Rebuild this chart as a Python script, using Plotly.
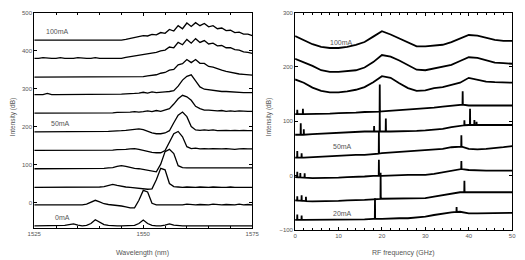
import numpy as np
import plotly.graph_objects as go

# ---------------- Left panel: optical spectra (offset for display) ----------------
WAVELENGTH = list(range(1525, 1576))  # nm, 1 nm sampling
SPEC_CURRENTS = ["0mA", "10mA", "20mA", "30mA", "40mA", "50mA", "60mA", "70mA", "80mA", "90mA", "100mA"]
SPEC_OFFSETS = [-60, -5, 41, 90, 138, 187, 236, 285, 331, 380, 428]

spec_0mA = [0, 0, 0, 0, 0, 0, 0, 1, 3, 5,
            2, 0, 1, 6, 16, 9, 3, 1, 0, 0,
            0, 0, 0, 1, 6, 15, 6, 1, 0, 0,
            2, 5, 2, 0, 0, 0, 0, 0, 0, 0,
            0, 0, 0, 0, 0, 0, 0, 0, 0, 0,
            0]
spec_10mA = [0, 0, 1, 0, 0, 0, 0, 0, 1, 0,
             0, 0, 2, 6, 12, 8, 3, 1, 0, -1,
             -3, -5, -8, -8, 12, 38, 34, 4, 0, 0,
             0, 1, 0, 0, 0, 2, 0, 0, 1, 0,
             0, 2, 0, 0, 1, 0, 0, 2, 0, 1,
             0]
spec_20mA = [0, 0, 0, 0, 0, 1, 0, 0, 0, 0,
             0, 0, 0, 0, 1, 1, 2, 4, 8, 5,
             2, 1, 0, -1, -3, -4, -5, -4, 20, 50,
             46, 10, 2, 1, 0, 1, 0, 0, 1, 0,
             0, 1, 0, 0, 0, 1, 0, 0, 1, 0,
             0]
spec_30mA = [0, 0, 0, 1, 0, 0, 0, 0, 0, 0,
             0, 0, 0, 0, 0, 1, 1, 2, 3, 6,
             8, 6, 3, 1, 0, -2, -4, -6, -8, 12,
             45, 51, 40, 8, 3, 2, 2, 3, 2, 2,
             3, 2, 2, 3, 2, 2, 3, 2, 2, 3,
             2]
spec_40mA = [0, 0, 0, 0, 0, 1, 0, 0, 0, 1,
             0, 0, 0, 0, 1, 0, 0, 1, 1, 2,
             2, 3, 4, 5, 3, 0, -3, -5, -6, -6,
             0, 22, 44, 50, 36, 10, 5, 6, 4, 5,
             4, 5, 4, 4, 5, 4, 3, 4, 5, 4,
             4]
spec_50mA = [0, 0, 0, 0, 0, 0, 0, 0, 0, 0,
             0, 0, 1, 0, 0, 0, 1, 1, 2, 2,
             3, 4, 5, 7, 8, 6, 1, -3, -5, -5,
             -3, 3, 24, 44, 52, 40, 14, 5, 4, 5,
             4, 5, 3, 4, 4, 3, 4, 3, 4, 3,
             3]
spec_60mA = [0, 0, 1, 0, 1, 0, 1, 0, 1, 0,
             0, 0, 0, 0, 0, 0, 0, 1, 1, 2,
             2, 3, 3, 4, 3, 4, 6, 4, 7, 5,
             8, 12, 24, 38, 47, 43, 34, 18, 12, 8,
             8, 7, 6, 7, 5, 6, 5, 6, 5, 5,
             5]
spec_70mA = [0, 0, 0, 3, 0, 0, 0, 0, 0, 0,
             0, 0, 0, 0, 0, 0, 0, 0, 0, 1,
             1, 2, 2, 3, 4, 6, 4, 7, 5, 7,
             7, 8, 10, 22, 38, 48, 52, 36, 20, 14,
             12, 10, 9, 8, 8, 7, 6, 6, 5, 5,
             5]
spec_80mA = [0, 0, 0, 0, 0, 0, 0, 0, 0, 0,
             0, 0, 0, 0, 1, 0, 1, 0, 1, 0,
             0, 0, 0, 0, 0, 1, 3, 4, 6, 10,
             12, 18, 20, 32, 35, 46, 38, 46, 36, 36,
             28, 26, 21, 18, 15, 12, 10, 8, 7, 5,
             5]
spec_90mA = [0, 0, 2, 0, 0, 0, 2, 0, 0, 0,
             2, 0, 0, 0, 2, 0, 0, 0, 0, 0,
             0, 3, 5, 7, 9, 10, 12, 13, 16, 20,
             22, 30, 28, 42, 36, 50, 40, 52, 42, 47,
             38, 40, 33, 34, 28, 28, 23, 22, 17, 16,
             13]
spec_100mA = [0, 0, 0, 0, 0, 0, 0, 0, 0, 0,
              0, 0, 0, 0, 0, 0, 0, 0, 0, 0,
              0, 2, 5, 8, 10, 12, 11, 15, 14, 20,
              18, 28, 24, 38, 30, 45, 36, 46, 38, 44,
              35, 38, 30, 32, 25, 26, 20, 21, 16, 16,
              12]
SPECTRA = [spec_0mA, spec_10mA, spec_20mA, spec_30mA, spec_40mA, spec_50mA,
           spec_60mA, spec_70mA, spec_80mA, spec_90mA, spec_100mA]

# ---------------- Right panel: RF spectra (offset for display) ----------------
RF_FREQ = list(range(0, 51, 2))  # GHz, 2 GHz sampling of the background
RF_CURRENTS = ["20mA", "30mA", "40mA", "50mA", "60mA", "70mA", "80mA", "90mA", "100mA"]
RF_OFFSETS = [-82, -46, -3, 33, 75, 113, 177, 215, 257]

rf_20mA = [0, 0, 0, 0, 0, 0, 0, 0, 1, 2, 2, 3, 3, 3, 4, 6, 9, 12, 14, 15, 12, 12, 12, 13, 13, 13]
rf_30mA = [0, -1, -2, -2, -2, -1, 0, 0, 1, 2, 3, 3, 3, 4, 4, 4, 7, 10, 12, 15, 15, 15, 15, 15, 15, 15]
rf_40mA = [0, -1, -2, -2, -2, -1, 0, 0, 1, 2, 2, 3, 3, 4, 4, 4, 6, 9, 12, 15, 13, 12, 12, 12, 12, 12]
rf_50mA = [0, 0, 1, 2, 3, 3, 4, 5, 5, 6, 8, 9, 10, 11, 12, 13, 14, 16, 19, 21, 16, 15, 16, 17, 19, 21]
rf_60mA = [0, 0, 1, 2, 2, 3, 4, 5, 6, 6, 6, 6, 6, 7, 7, 8, 9, 11, 14, 17, 18, 18, 18, 18, 18, 18]
rf_70mA = [0, 0, 0, 1, 1, 2, 2, 3, 4, 4, 5, 6, 7, 8, 9, 10, 12, 14, 16, 18, 16, 16, 16, 16, 16, 16]
rf_80mA = [0, -6, -15, -21, -24, -24, -22, -19, -14, -5, 6, 3, -7, -16, -21, -20, -16, -14, -10, -6, 3, -1, -4, -5, -6, -6]
rf_90mA = [0, -6, -13, -21, -24, -24, -23, -21, -16, -6, 7, 4, -3, -12, -20, -21, -18, -15, -11, -4, 3, 2, -2, -7, -8, -9]
rf_100mA = [0, -7, -15, -20, -22, -22, -20, -16, -11, -1, 9, 3, -4, -12, -19, -19, -18, -16, -11, -5, 2, 1, -3, -7, -9, -9]
RF_SPECTRA = [rf_20mA, rf_30mA, rf_40mA, rf_50mA, rf_60mA, rf_70mA, rf_80mA, rf_90mA, rf_100mA]

# narrow spectral lines (frequency GHz, height dB above background)
RF_LINES = [
    [(0.5, 10), (1.5, 8), (18.4, 38), (37.2, 9)],                        # 20mA
    [(0.5, 8), (1.5, 10), (2.5, 8), (19.7, 48), (39.0, 21)],              # 30mA
    [(0.5, 10), (1.2, 8), (2.2, 8), (19.3, 30), (38.3, 15)],              # 40mA
    [(0.5, 12), (1.5, 8), (19.3, 40), (38.3, 21)],                        # 50mA
    [(1.3, 21), (2.0, 10), (18.2, 10), (19.5, 38), (20.9, 24),
     (39.0, 9), (40.3, 30), (41.3, 9), (41.8, 6)],                        # 60mA
    [(0.5, 8), (1.8, 10), (19.5, 50), (38.6, 25)],                        # 70mA
    [], [], [],                                                           # 80, 90, 100mA
]

LEFT_LABELS = [("100mA", 1527.2, 451), ("50mA", 1528.3, 210), ("0mA", 1529.2, -39)]
RIGHT_LABELS = [("100mA", 7.6, 246), ("50mA", 8.3, 53), ("20mA", 8.3, -71)]

FONT = "Liberation Sans, Arial, sans-serif"
TXT = "#555555"

fig = go.Figure()

for name, off, spec in zip(SPEC_CURRENTS, SPEC_OFFSETS, SPECTRA):
    fig.add_trace(go.Scatter(
        x=WAVELENGTH, y=[v + off for v in spec], mode="lines", name=name,
        line=dict(color="black", width=1.3), xaxis="x", yaxis="y", showlegend=False))

for name, off, bg, lines in zip(RF_CURRENTS, RF_OFFSETS, RF_SPECTRA, RF_LINES):
    pts = list(zip(RF_FREQ, [v + off for v in bg]))
    for f, h in lines:
        b = float(np.interp(f, RF_FREQ, bg)) + off
        pts += [(f - 0.04, b), (f, b + h), (f + 0.04, b)]
    pts.sort(key=lambda p: p[0])
    fig.add_trace(go.Scatter(
        x=[p[0] for p in pts], y=[p[1] for p in pts], mode="lines", name=name,
        line=dict(color="black", width=1.8), xaxis="x2", yaxis="y2", showlegend=False))

axis_common = dict(
    showline=True, linecolor="black", linewidth=1, mirror="allticks",
    ticks="inside", ticklen=3, tickcolor="black", tickwidth=1,
    showgrid=False, zeroline=False,
    tickfont=dict(family=FONT, size=6, color=TXT),
)

fig.update_layout(
    width=525, height=260,
    margin=dict(l=0, r=0, t=0, b=0),
    paper_bgcolor="white", plot_bgcolor="white",
    xaxis=dict(axis_common, domain=[28 / 525, 252 / 525], range=[1525, 1575],
               tickvals=[1525, 1550, 1575], anchor="y",
               minor=dict(dtick=5, ticks="inside", ticklen=2, tickcolor="black")),
    yaxis=dict(axis_common, domain=[1 - 230 / 260, 1 - 10 / 260], range=[-65, 500],
               tickvals=[0, 100, 200, 300, 400, 500], anchor="x"),
    xaxis2=dict(axis_common, domain=[296 / 525, 519 / 525], range=[0, 50],
                tickvals=[0, 10, 20, 30, 40, 50], anchor="y2",
                minor=dict(dtick=2, ticks="inside", ticklen=2, tickcolor="black")),
    yaxis2=dict(axis_common, domain=[1 - 232 / 260, 1 - 10 / 260], range=[-100, 300],
                tickvals=[-100, 0, 100, 200, 300], anchor="x2"),
)

annotations = []
for txt, x, y in LEFT_LABELS:
    annotations.append(dict(text=txt, x=x, y=y, xref="x", yref="y", xanchor="left",
                            yanchor="middle", showarrow=False,
                            font=dict(family=FONT, size=7, color=TXT)))
for txt, x, y in RIGHT_LABELS:
    annotations.append(dict(text=txt, x=x, y=y, xref="x2", yref="y2", xanchor="left",
                            yanchor="middle", showarrow=False,
                            font=dict(family=FONT, size=7, color=TXT)))
# axis titles
annotations += [
    dict(text="Wavelength (nm)", x=139 / 525, y=1 - 256 / 260, xref="paper", yref="paper",
         showarrow=False, xanchor="center", yanchor="middle",
         font=dict(family=FONT, size=7, color=TXT)),
    dict(text="RF frequency (GHz)", x=407 / 525, y=1 - 256 / 260, xref="paper", yref="paper",
         showarrow=False, xanchor="center", yanchor="middle",
         font=dict(family=FONT, size=7, color=TXT)),
    dict(text="Intensity (dB)", x=6 / 525, y=1 - 117 / 260, xref="paper", yref="paper",
         showarrow=False, xanchor="center", yanchor="middle", textangle=-90,
         font=dict(family=FONT, size=6.5, color=TXT)),
    dict(text="Intensity (dB)", x=269 / 525, y=1 - 117 / 260, xref="paper", yref="paper",
         showarrow=False, xanchor="center", yanchor="middle", textangle=-90,
         font=dict(family=FONT, size=6.5, color=TXT)),
]
fig.update_layout(annotations=annotations)

fig.write_html("out.html")
